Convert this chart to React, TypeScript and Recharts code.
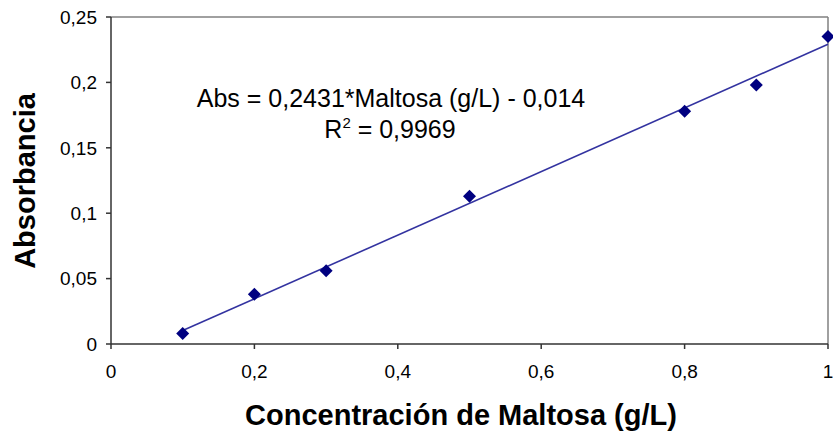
import React from "react";
import {
  ComposedChart,
  Scatter,
  XAxis,
  YAxis,
  ReferenceLine,
} from "recharts";

// Maltose concentration (g/L) and measured absorbance
const concentracion = [0.1, 0.2, 0.3, 0.5, 0.8, 0.9, 1.0];
const absorbancia = [0.008, 0.038, 0.056, 0.113, 0.178, 0.198, 0.235];

// Linear fit: Abs = slope * x + intercept
const slope = 0.2431;
const intercept = -0.014;
const fitRange = [0.1, 1.0];

const xTicks = [0, 0.2, 0.4, 0.6, 0.8, 1];
const yTicks = [0, 0.05, 0.1, 0.15, 0.2, 0.25];

const points = concentracion.map((x, i) => ({ x, y: absorbancia[i] }));
const fitLine = fitRange.map((x) => ({ x, y: slope * x + intercept }));

const FONT = "'Liberation Sans', Arial, sans-serif";
const fmt = (v: number) => String(v).replace(".", ",");

const Diamond = (props: any) => {
  const { cx, cy } = props;
  const r = 6.5;
  return (
    <polygon
      points={`${cx},${cy - r} ${cx + r},${cy} ${cx},${cy + r} ${cx - r},${cy}`}
      fill="#000080"
    />
  );
};

const NoDot = () => <g />;

export default function App() {
  return (
    <div style={{ position: "absolute", left: 0, top: 0, background: "#fff" }}>
      <ComposedChart
        width={833}
        height={436}
        margin={{ top: 17, right: 5, left: 0, bottom: 0 }}
        style={{ fontFamily: FONT }}
      >
        <XAxis
          type="number"
          dataKey="x"
          domain={[0, 1]}
          ticks={xTicks}
          tickFormatter={fmt}
          axisLine={{ stroke: "#333", strokeWidth: 1.5 }}
          tickLine={{ stroke: "#333", strokeWidth: 1.5 }}
          tickSize={5}
          tick={{ fill: "#000", fontSize: 19, fontFamily: FONT }}
          tickMargin={16}
          height={92}
        />
        <YAxis
          type="number"
          dataKey="y"
          domain={[0, 0.25]}
          ticks={yTicks}
          tickFormatter={fmt}
          axisLine={{ stroke: "#333", strokeWidth: 1.5 }}
          tickLine={{ stroke: "#333", strokeWidth: 1.5 }}
          tickSize={5}
          tick={{ fill: "#000", fontSize: 19, fontFamily: FONT }}
          tickMargin={9}
          width={111}
        />
        <ReferenceLine y={0.25} stroke="#808080" strokeWidth={1.5} />
        <ReferenceLine x={1} stroke="#808080" strokeWidth={1.5} />
        <Scatter
          data={fitLine}
          line={{ stroke: "#3333a0", strokeWidth: 1.6 }}
          shape={NoDot}
          isAnimationActive={false}
        />
        <Scatter data={points} shape={Diamond} isAnimationActive={false} />

        {/* axis titles */}
        <text
          x={461}
          y={425}
          textAnchor="middle"
          fontSize={29}
          fontWeight="bold"
          fontFamily={FONT}
          fill="#000"
        >
          Concentración de Maltosa (g/L)
        </text>
        <text
          transform="translate(35 181) rotate(-90)"
          textAnchor="middle"
          fontSize={29}
          fontWeight="bold"
          fontFamily={FONT}
          fill="#000"
        >
          Absorbancia
        </text>

        {/* regression equation */}
        <text
          x={391}
          y={107}
          textAnchor="middle"
          fontSize={25}
          fontFamily={FONT}
          fill="#000"
        >
          Abs = 0,2431*Maltosa (g/L) - 0,014
        </text>
        <text
          x={390}
          y={138}
          textAnchor="middle"
          fontSize={25}
          fontFamily={FONT}
          fill="#000"
        >
          R
          <tspan dy={-10} fontSize={15}>
            2
          </tspan>
          <tspan dy={10}> = 0,9969</tspan>
        </text>
      </ComposedChart>
    </div>
  );
}
